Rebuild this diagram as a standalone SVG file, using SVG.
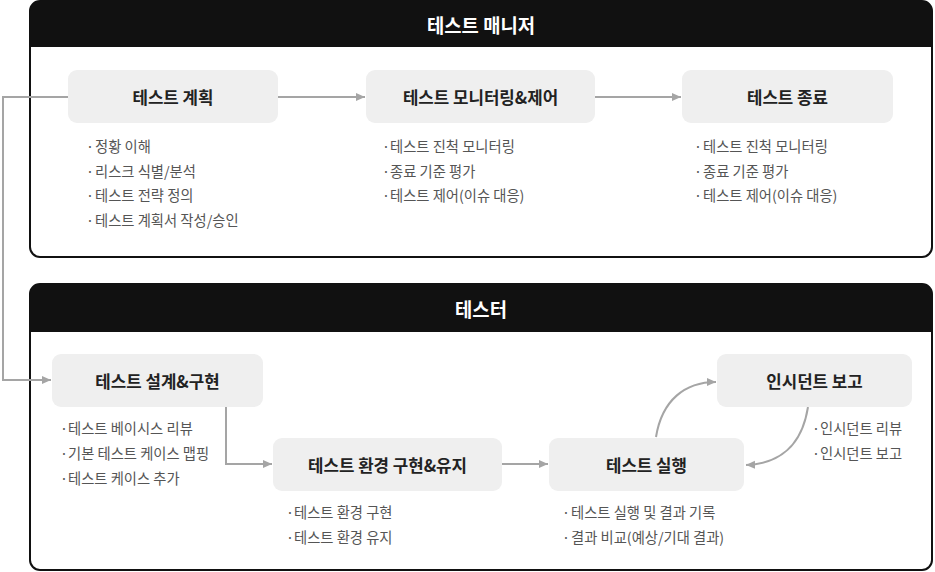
<svg xmlns="http://www.w3.org/2000/svg" width="935" height="572" viewBox="0 0 935 572">
<style>
text{font-family:"Noto Sans CJK KR","Noto Sans",sans-serif}
.panel{fill:#fff;stroke:#111;stroke-width:2}
.hdr{fill:#111}
.htxt{font-size:18.8px;font-weight:700;fill:#fff;text-anchor:middle;dominant-baseline:central}
.box{fill:#efefef}
.ttl{font-size:16.8px;font-weight:700;fill:#222;text-anchor:middle;dominant-baseline:central}
.bl{font-size:14.3px;fill:#555;dominant-baseline:central}
.con{fill:none;stroke:#a5a5a5;stroke-width:2}
</style>
<defs>
<marker id="ah" markerUnits="userSpaceOnUse" markerWidth="10" markerHeight="10" refX="9" refY="5" orient="auto">
<path d="M0,1 L9,5 L0,9 z" fill="#a5a5a5"/>
</marker>
</defs>
<g id="panel-manager">
<rect class="panel" x="30" y="1" width="902" height="256" rx="10"/>
<path class="hdr" d="M30,47 V11 A10,10 0 0 1 40,1 H922 A10,10 0 0 1 932,11 V47 Z"/>
<text class="htxt" x="481" y="24">테스트 매니저</text>
</g>
<g id="panel-tester">
<rect class="panel" x="30" y="284" width="902" height="286" rx="10"/>
<path class="hdr" d="M30,332 V294 A10,10 0 0 1 40,284 H922 A10,10 0 0 1 932,294 V332 Z"/>
<text class="htxt" x="481" y="308">테스터</text>
</g>
<g id="connectors">
<path class="con" d="M278,97 H365" marker-end="url(#ah)"/>
<path class="con" d="M595,97 H681" marker-end="url(#ah)"/>
<path class="con" d="M68,97 H3 V380 H51" marker-end="url(#ah)"/>
<path class="con" d="M226,407 V464 H272" marker-end="url(#ah)"/>
<path class="con" d="M502,464 H548" marker-end="url(#ah)"/>
<path class="con" d="M656,437 C662,400 685,382 716,382" marker-end="url(#ah)"/>
<path class="con" d="M808,407 C802,445 780,464 746,465" marker-end="url(#ah)"/>
</g>
<g id="node-plan">
<rect class="box" x="68" y="70" width="210" height="53" rx="9"/>
<text class="ttl" x="173" y="96.5">테스트 계획</text>
<text class="bl"><tspan x="86" y="145">·</tspan><tspan x="95" y="145">정황 이해</tspan></text>
<text class="bl"><tspan x="86" y="170">·</tspan><tspan x="95" y="170">리스크 식별/분석</tspan></text>
<text class="bl"><tspan x="86" y="194">·</tspan><tspan x="95" y="194">테스트 전략 정의</tspan></text>
<text class="bl"><tspan x="86" y="219">·</tspan><tspan x="95" y="219">테스트 계획서 작성/승인</tspan></text>
</g>
<g id="node-monitor">
<rect class="box" x="366" y="70" width="229" height="53" rx="9"/>
<text class="ttl" x="480.5" y="96.5">테스트 모니터링&amp;제어</text>
<text class="bl"><tspan x="382" y="145">·</tspan><tspan x="390" y="145">테스트 진척 모니터링</tspan></text>
<text class="bl"><tspan x="382" y="170">·</tspan><tspan x="390" y="170">종료 기준 평가</tspan></text>
<text class="bl"><tspan x="382" y="194">·</tspan><tspan x="390" y="194">테스트 제어(이슈 대응)</tspan></text>
</g>
<g id="node-end">
<rect class="box" x="682" y="70" width="211" height="53" rx="9"/>
<text class="ttl" x="787.5" y="96.5">테스트 종료</text>
<text class="bl"><tspan x="694" y="145">·</tspan><tspan x="703" y="145">테스트 진척 모니터링</tspan></text>
<text class="bl"><tspan x="694" y="170">·</tspan><tspan x="703" y="170">종료 기준 평가</tspan></text>
<text class="bl"><tspan x="694" y="194">·</tspan><tspan x="703" y="194">테스트 제어(이슈 대응)</tspan></text>
</g>
<g id="node-design">
<rect class="box" x="52" y="354" width="211" height="53" rx="9"/>
<text class="ttl" x="157.5" y="380.5">테스트 설계&amp;구현</text>
<text class="bl"><tspan x="60" y="427">·</tspan><tspan x="68" y="427">테스트 베이시스 리뷰</tspan></text>
<text class="bl"><tspan x="60" y="452">·</tspan><tspan x="68" y="452">기본 테스트 케이스 맵핑</tspan></text>
<text class="bl"><tspan x="60" y="477">·</tspan><tspan x="68" y="477">테스트 케이스 추가</tspan></text>
</g>
<g id="node-env">
<rect class="box" x="273" y="438" width="229" height="53" rx="9"/>
<text class="ttl" x="387.5" y="464.5">테스트 환경 구현&amp;유지</text>
<text class="bl"><tspan x="286" y="511">·</tspan><tspan x="294" y="511">테스트 환경 구현</tspan></text>
<text class="bl"><tspan x="286" y="536">·</tspan><tspan x="294" y="536">테스트 환경 유지</tspan></text>
</g>
<g id="node-exec">
<rect class="box" x="549" y="438" width="195" height="53" rx="9"/>
<text class="ttl" x="646.5" y="464.5">테스트 실행</text>
<text class="bl"><tspan x="562" y="511">·</tspan><tspan x="571" y="511">테스트 실행 및 결과 기록</tspan></text>
<text class="bl"><tspan x="562" y="536">·</tspan><tspan x="571" y="536">결과 비교(예상/기대 결과)</tspan></text>
</g>
<g id="node-incident">
<rect class="box" x="717" y="354" width="195" height="53" rx="9"/>
<text class="ttl" x="814.5" y="380.5">인시던트 보고</text>
<text class="bl"><tspan x="812" y="427">·</tspan><tspan x="820" y="427">인시던트 리뷰</tspan></text>
<text class="bl"><tspan x="812" y="452">·</tspan><tspan x="820" y="452">인시던트 보고</tspan></text>
</g>
</svg>
